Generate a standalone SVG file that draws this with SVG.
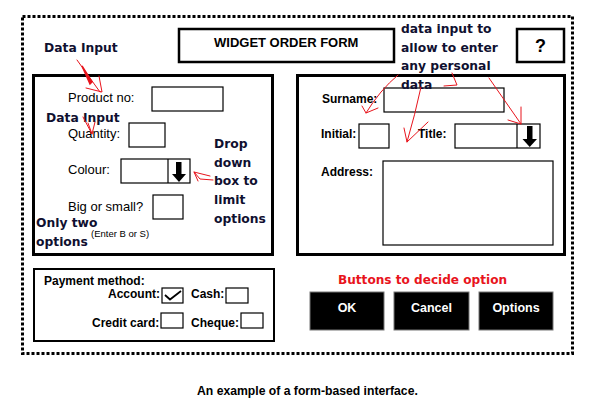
<svg xmlns="http://www.w3.org/2000/svg" width="590" height="405" viewBox="0 0 590 405">
<style>
.box{fill:#fff;stroke:#000;stroke-width:1.2}
.panel{fill:none;stroke:#000;stroke-width:3}
.lbl{font-family:"Liberation Sans",Arial,sans-serif;font-size:13px;fill:#000}
.lblb{font-family:"Liberation Sans",Arial,sans-serif;font-size:12px;font-weight:bold;fill:#000}
.ann{font-family:"DejaVu Sans",Verdana,sans-serif;font-size:12.3px;font-weight:bold;fill:#101030}
.red{fill:none;stroke:#e8141c;stroke-width:1;stroke-linecap:round;stroke-linejoin:round}
.btn{fill:#000;stroke:#777;stroke-width:1}
.btnt{font-family:"Liberation Sans",Arial,sans-serif;font-size:12.5px;font-weight:bold;fill:#fff;text-anchor:middle}
</style>
<rect width="590" height="405" fill="#fff"/>
<rect x="22.5" y="16.5" width="550" height="337" fill="none" stroke="#000" stroke-width="3" stroke-dasharray="3 2"/>

<g id="title">
<rect x="179" y="29" width="215" height="33" fill="#fff" stroke="#000" stroke-width="2.5"/>
<text x="214" y="47" font-family="Liberation Sans,Arial,sans-serif" font-size="13" font-weight="bold">WIDGET ORDER FORM</text>
</g>
<g id="help">
<rect x="517" y="29" width="47" height="33" fill="#fff" stroke="#000" stroke-width="2.5"/>
<text x="540.5" y="52" font-family="Liberation Sans,Arial,sans-serif" font-size="18" font-weight="bold" text-anchor="middle">?</text>
</g>

<g id="product-panel">
<rect class="panel" x="33.5" y="75.5" width="239" height="179"/>
<text class="lbl" x="68" y="102">Product no:</text>
<rect class="box" x="152" y="87" width="71" height="24"/>
<text class="lbl" x="68" y="138">Quantity:</text>
<rect class="box" x="129" y="123" width="36" height="24"/>
<text class="lbl" x="68" y="174">Colour:</text>
<rect class="box" x="121" y="159" width="69" height="24"/>
<line x1="168" y1="159" x2="168" y2="183" stroke="#000" stroke-width="1.2"/>
<rect x="176" y="162" width="5.5" height="13" fill="#000"/>
<polygon points="172,174 186,174 179,182" fill="#000"/>
<text class="lbl" x="68" y="211">Big or small?</text>
<rect class="box" x="153" y="195" width="30" height="24"/>
<text x="91" y="237" font-family="Liberation Sans,Arial,sans-serif" font-size="9.5">(Enter B or S)</text>
</g>

<g id="personal-panel">
<rect class="panel" x="297.5" y="75.5" width="267" height="179"/>
<text class="lblb" x="322" y="103">Surname:</text>
<rect class="box" x="384" y="88" width="120" height="24"/>
<text class="lblb" x="321" y="138">Initial:</text>
<rect class="box" x="359" y="124" width="30" height="24"/>
<text class="lblb" x="418" y="138">Title:</text>
<rect class="box" x="455" y="124" width="85" height="24"/>
<line x1="517" y1="124" x2="517" y2="148" stroke="#000" stroke-width="1.2"/>
<rect x="527" y="126" width="5.5" height="14" fill="#000"/>
<polygon points="522.5,139 537,139 529.7,147" fill="#000"/>
<text class="lblb" x="321" y="176">Address:</text>
<rect class="box" x="383" y="161" width="170" height="84"/>
</g>

<g id="payment">
<rect x="34" y="269" width="240" height="72" fill="none" stroke="#000" stroke-width="2"/>
<text class="lblb" x="44" y="285">Payment method:</text>
<text class="lblb" x="108" y="298">Account:</text>
<rect class="box" x="162" y="288" width="21" height="15"/>
<path d="M165,295 L170,299.5 L181,291" fill="none" stroke="#000" stroke-width="1.8"/>
<text class="lblb" x="191" y="298">Cash:</text>
<rect class="box" x="226" y="288" width="22" height="15"/>
<text class="lblb" x="92" y="327">Credit card:</text>
<rect class="box" x="161" y="313" width="22" height="15"/>
<text class="lblb" x="191" y="327">Cheque:</text>
<rect class="box" x="241" y="313" width="22" height="15"/>
</g>

<g id="btn-ok"><rect class="btn" x="310" y="292" width="74" height="38"/><text class="btnt" x="347" y="312">OK</text></g>
<g id="btn-cancel"><rect class="btn" x="394" y="292" width="75" height="38"/><text class="btnt" x="431.5" y="312">Cancel</text></g>
<g id="btn-options"><rect class="btn" x="479" y="292" width="74" height="38"/><text class="btnt" x="516" y="312">Options</text></g>

<g id="annotations">
<text class="ann" x="44" y="52">Data Input</text>
<text class="ann" x="46" y="122">Data Input</text>
<text class="ann" x="214" y="148">Drop</text>
<text class="ann" x="214" y="167">down</text>
<text class="ann" x="214" y="185">box to</text>
<text class="ann" x="214" y="204">limit</text>
<text class="ann" x="214" y="223">options</text>
<text class="ann" x="36" y="227">Only two</text>
<text class="ann" x="36" y="246">options</text>
<text class="ann" x="401" y="33">data input to</text>
<text class="ann" x="401" y="52">allow to enter</text>
<text class="ann" x="401" y="70">any personal</text>
<text class="ann" x="401" y="89">data</text>
<text x="338" y="284" font-family="DejaVu Sans,Verdana,sans-serif" font-size="12.1" font-weight="bold" fill="#e8141c">Buttons to decide option</text>
</g>

<g id="connectors">
<path class="red" d="M77,60 L100,92"/>
<path d="M82,66 L92,82 L90,84 Z" fill="#e8141c" stroke="#e8141c" stroke-width="1.5"/>
<path class="red" d="M99,76 L102,92 L86,88"/>
<path class="red" d="M83,117 L92,134 M88,123 L92,134 L95,122"/>
<path class="red" d="M213,180 L200,179 L194,172 L210,176 M194,172 L198,181"/>
<path class="red" d="M398,75 Q380,90 366,113 M362,106 L366,113 L378,108"/>
<path class="red" d="M421,87 Q415,115 407,142 M404,128 L407,142 L428,122"/>
<path class="red" d="M452,73 L457,85 L444,86"/>
<path class="red" d="M489,78 L521,124 M521,107 L521,124 L508,120"/>
</g>

<text x="197" y="395" font-family="Liberation Sans,Arial,sans-serif" font-size="12.2" font-weight="bold">An example of a form-based interface.</text>
</svg>
